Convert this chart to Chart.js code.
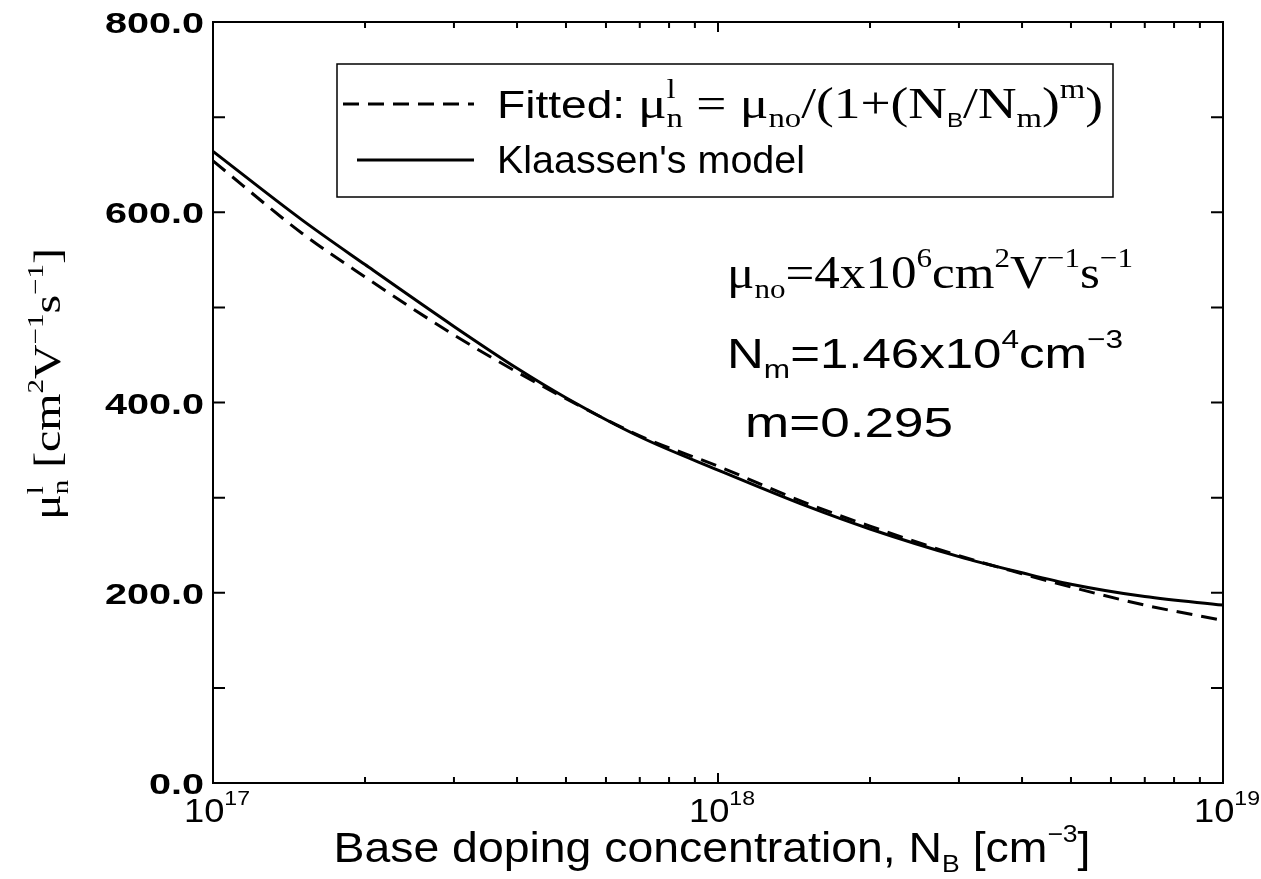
<!DOCTYPE html>
<html>
<head>
<meta charset="utf-8">
<script src="https://cdn.jsdelivr.net/npm/chart.js@4.4.1/dist/chart.umd.min.js"></script>
<style>
  html, body { margin: 0; padding: 0; background: #fff; }
  #wrap { width: 1261px; height: 879px; }
</style>
</head>
<body>
<div id="wrap"><canvas id="mobChart" width="1261" height="879"></canvas></div>
<script>
// ── Data ──
const dopingLevels     = [1e17, 1.5e17, 2e17, 3e17, 4e17, 5e17, 7e17, 1e18, 1.5e18, 2e18, 3e18, 4e18, 5e18, 7e18, 1e19];
const fittedMobility   = [654, 578, 532, 471, 432, 404, 365, 333, 294, 270, 239, 220, 206, 187, 171];
const klaassenMobility = [664, 592, 545, 480, 436, 405, 364, 329, 291, 267, 238, 221, 209, 196, 187];

// ── Axis ticks ──
const yTickMarks    = [0, 100, 200, 300, 400, 500, 600, 700, 800];
const yTickLabels   = [0, 200, 400, 600, 800];
const xDecades      = [1e17, 1e18, 1e19];
const xDecadeExps   = ['17', '18', '19'];
const xMinorFactors = [2, 3, 4, 5, 6, 7, 8, 9];

const SANS  = '"Liberation Sans", Arial, sans-serif';
const SERIF = '"Liberation Serif", "Times New Roman", serif';
const font  = (px, fam, w) => `${w || 'normal'} ${px}px ${fam}`;

// ── Rich text: parts = [{t, f, dy, stay}] (stay = next part stacks on top) ──
function measureRich(ctx, parts) {
  let w = 0, hold = 0;
  for (const p of parts) {
    ctx.font = p.f;
    const pw = ctx.measureText(p.t).width;
    if (p.stay) { hold = pw; continue; }
    w += Math.max(pw, hold);
    hold = 0;
  }
  return w;
}

function drawRich(ctx, x, y, parts, opts = {}) {
  const natural = measureRich(ctx, parts);
  const sx = opts.width ? opts.width / natural : (opts.sx || 1);
  const total = natural * sx;
  if (opts.align === 'center') x -= total / 2;
  else if (opts.align === 'right') x -= total;
  ctx.save();
  ctx.translate(x, y);
  ctx.scale(sx, 1);
  ctx.fillStyle = '#000';
  ctx.textAlign = 'left';
  ctx.textBaseline = 'alphabetic';
  let cx = 0, hold = 0;
  for (const p of parts) {
    ctx.font = p.f;
    ctx.fillText(p.t, cx, p.dy || 0);
    const w = ctx.measureText(p.t).width;
    if (p.stay) { hold = w; continue; }
    cx += Math.max(w, hold);
    hold = 0;
  }
  ctx.restore();
}

// ── Frame, inward ticks, labels, legend and notes ──
const decorations = {
  id: 'decorations',
  afterDraw(chart) {
    const { ctx, chartArea: a, scales: { x, y } } = chart;
    ctx.save();
    ctx.strokeStyle = '#000';

    // frame
    ctx.lineWidth = 2;
    ctx.strokeRect(a.left, a.top, a.right - a.left, a.bottom - a.top);

    // y ticks (left + right)
    ctx.lineWidth = 2;
    yTickMarks.forEach(v => {
      const py = y.getPixelForValue(v);
      ctx.beginPath();
      ctx.moveTo(a.left, py);  ctx.lineTo(a.left + 12, py);
      ctx.moveTo(a.right, py); ctx.lineTo(a.right - 12, py);
      ctx.stroke();
    });

    // x ticks (bottom + top)
    const xTick = (v, len) => {
      const px = x.getPixelForValue(v);
      ctx.beginPath();
      ctx.moveTo(px, a.bottom); ctx.lineTo(px, a.bottom - len);
      ctx.moveTo(px, a.top);    ctx.lineTo(px, a.top + len);
      ctx.stroke();
    };
    xDecades.slice(0, -1).forEach(d => xMinorFactors.forEach(m => xTick(d * m, 6)));
    xDecades.forEach(d => xTick(d, 10));

    // y tick labels
    yTickLabels.forEach(v => {
      const py = y.getPixelForValue(v);
      drawRich(ctx, 204, py + 11, [{ t: v.toFixed(1), f: font(30, SANS, 'bold') }],
        { align: 'right', sx: 1.32 });
    });

    // x tick labels
    xDecades.forEach((d, i) => {
      const px = x.getPixelForValue(d);
      drawRich(ctx, px + 4, 822, [
        { t: '10', f: font(33, SANS) },
        { t: xDecadeExps[i], f: font(21, SANS), dy: -17 }
      ], { align: 'center', sx: 1.1 });
    });

    // x title
    drawRich(ctx, 712, 862, [
      { t: 'Base doping concentration, N', f: font(42, SANS) },
      { t: 'B', f: font(24, SANS), dy: 10 },
      { t: ' [cm', f: font(42, SANS) },
      { t: '\u22123', f: font(24, SANS), dy: -20 },
      { t: ']', f: font(42, SANS) }
    ], { align: 'center', width: 757 });

    // y title (rotated)
    ctx.save();
    ctx.translate(60, 384);
    ctx.rotate(-Math.PI / 2);
    drawRich(ctx, 0, 0, [
      { t: '\u03bc', f: font(38, SERIF) },
      { t: 'n', f: font(23, SERIF), dy: 8, stay: true },
      { t: 'l', f: font(23, SERIF), dy: -17 },
      { t: ' [cm', f: font(38, SERIF) },
      { t: '2', f: font(23, SERIF), dy: -17 },
      { t: 'V', f: font(38, SERIF) },
      { t: '\u22121', f: font(23, SERIF), dy: -17 },
      { t: 's', f: font(38, SERIF) },
      { t: '\u22121', f: font(23, SERIF), dy: -17 },
      { t: ']', f: font(38, SERIF) }
    ], { align: 'center', width: 272 });
    ctx.restore();

    // legend box
    ctx.lineWidth = 1.5;
    ctx.strokeRect(337, 64, 1113 - 337, 197 - 64);
    const [dsFit, dsKla] = chart.data.datasets;
    ctx.lineWidth = dsFit.borderWidth;
    ctx.setLineDash(dsFit.borderDash);
    ctx.beginPath(); ctx.moveTo(343, 104); ctx.lineTo(474, 104); ctx.stroke();
    ctx.setLineDash([]);
    ctx.lineWidth = dsKla.borderWidth;
    ctx.beginPath(); ctx.moveTo(357, 160); ctx.lineTo(474, 160); ctx.stroke();

    drawRich(ctx, 497, 118, [
      { t: 'Fitted: ', f: font(38, SANS) },
      { t: '\u03bc', f: font(44, SERIF) },
      { t: 'n', f: font(27, SERIF), dy: 9, stay: true },
      { t: 'l', f: font(27, SERIF), dy: -20 },
      { t: ' = \u03bc', f: font(44, SERIF) },
      { t: 'no', f: font(27, SERIF), dy: 9 },
      { t: '/(1+(N', f: font(44, SERIF) },
      { t: 'B', f: font(20, SANS), dy: 9 },
      { t: '/N', f: font(44, SERIF) },
      { t: 'm', f: font(27, SERIF), dy: 9 },
      { t: ')', f: font(44, SERIF) },
      { t: 'm', f: font(27, SERIF), dy: -20 },
      { t: ')', f: font(44, SERIF) }
    ], { width: 606 });
    drawRich(ctx, 497, 173, [{ t: dsKla.label, f: font(39, SANS) }], { width: 308 });

    // fit parameters
    drawRich(ctx, 727, 288, [
      { t: '\u03bc', f: font(46, SERIF) },
      { t: 'no', f: font(28, SERIF), dy: 10 },
      { t: '=4x10', f: font(46, SERIF) },
      { t: '6', f: font(28, SERIF), dy: -21 },
      { t: 'cm', f: font(46, SERIF) },
      { t: '2', f: font(28, SERIF), dy: -21 },
      { t: 'V', f: font(46, SERIF) },
      { t: '\u22121', f: font(28, SERIF), dy: -21 },
      { t: 's', f: font(46, SERIF) },
      { t: '\u22121', f: font(28, SERIF), dy: -21 }
    ], { width: 406 });
    drawRich(ctx, 727, 368, [
      { t: 'N', f: font(42, SANS) },
      { t: 'm', f: font(26, SANS), dy: 10 },
      { t: '=1.46x10', f: font(42, SANS) },
      { t: '4', f: font(26, SANS), dy: -20 },
      { t: 'cm', f: font(42, SANS) },
      { t: '\u22123', f: font(26, SANS), dy: -20 }
    ], { width: 396 });
    drawRich(ctx, 745, 437, [{ t: 'm=0.295', f: font(42, SANS) }], { width: 208 });

    ctx.restore();
  }
};

const toPoints = vals => dopingLevels.map((n, i) => ({ x: n, y: vals[i] }));

new Chart(document.getElementById('mobChart').getContext('2d'), {
  type: 'line',
  data: {
    datasets: [
      {
        label: 'Fitted',
        data: toPoints(fittedMobility),
        borderColor: '#000',
        borderWidth: 3,
        borderDash: [16, 9],
        pointRadius: 0,
        cubicInterpolationMode: 'monotone',
        fill: false
      },
      {
        label: "Klaassen's model",
        data: toPoints(klaassenMobility),
        borderColor: '#000',
        borderWidth: 3,
        pointRadius: 0,
        cubicInterpolationMode: 'monotone',
        fill: false
      }
    ]
  },
  options: {
    responsive: false,
    animation: false,
    devicePixelRatio: 1,
    layout: { padding: { left: 213, top: 22, right: 38, bottom: 96 } },
    plugins: { legend: { display: false }, tooltip: { enabled: false } },
    scales: {
      x: { type: 'logarithmic', min: 1e17, max: 1e19, display: false },
      y: { type: 'linear', min: 0, max: 800, display: false }
    }
  },
  plugins: [decorations]
});
</script>
</body>
</html>
